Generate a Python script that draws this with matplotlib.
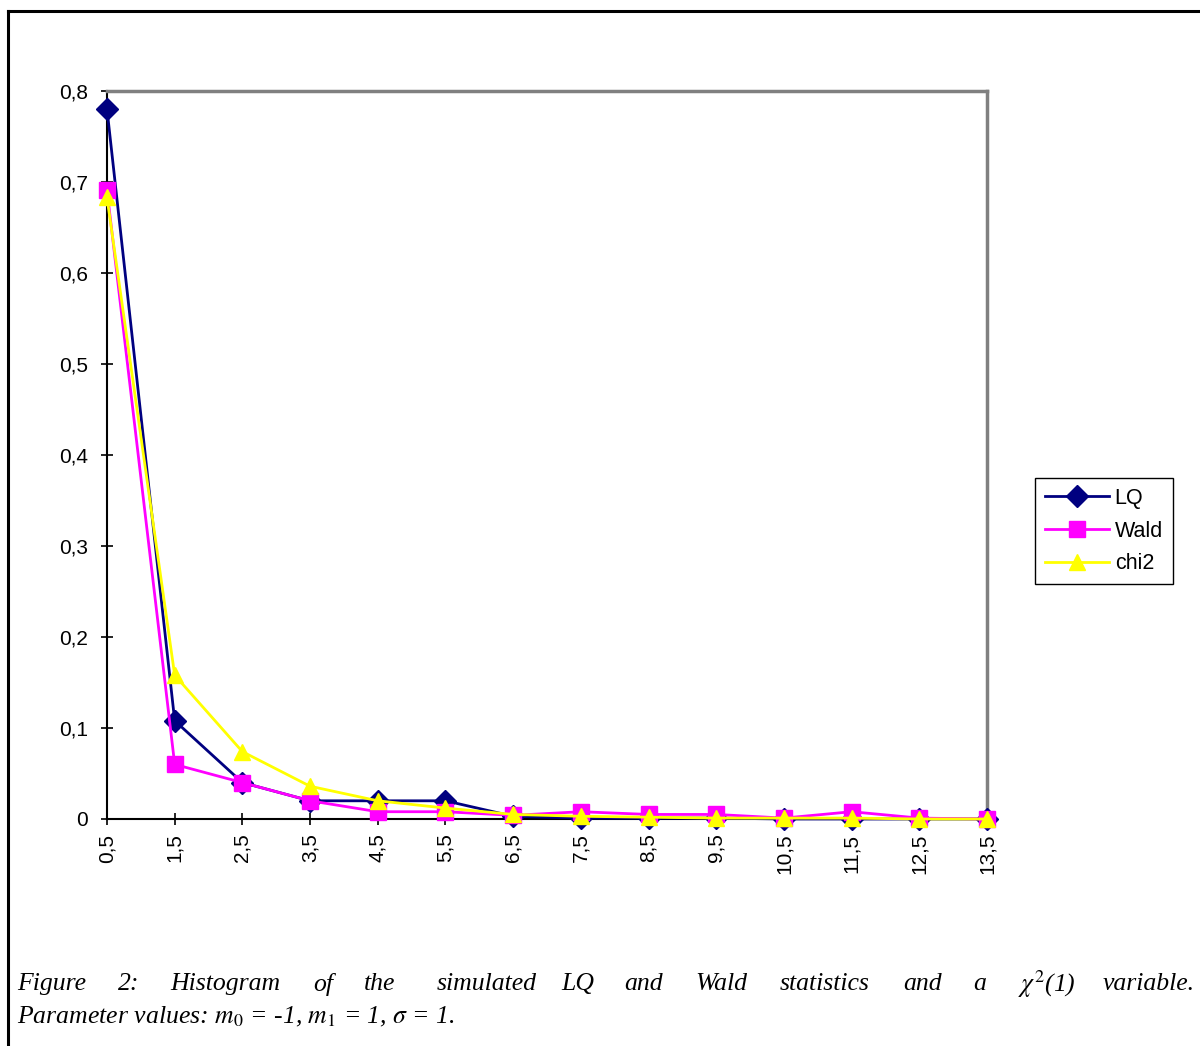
import numpy as np
import matplotlib
matplotlib.use('Agg')
import matplotlib.pyplot as plt
from matplotlib.lines import Line2D

plt.rcParams['mathtext.fontset'] = 'stix'

# category labels (bin centres) and relative frequencies
categorias = ['0,5', '1,5', '2,5', '3,5', '4,5', '5,5', '6,5',
              '7,5', '8,5', '9,5', '10,5', '11,5', '12,5', '13,5']
lq = [0.780, 0.108, 0.040, 0.020, 0.020, 0.020, 0.003,
      0.001, 0.001, 0.001, 0.000, 0.000, 0.000, 0.000]
wald = [0.691, 0.060, 0.040, 0.020, 0.008, 0.008, 0.004,
        0.008, 0.005, 0.005, 0.001, 0.008, 0.001, 0.000]
chi2 = [0.683, 0.158, 0.074, 0.036, 0.020, 0.012, 0.005,
        0.003, 0.002, 0.001, 0.001, 0.001, 0.000, 0.000]
y_ticks = [0, 0.1, 0.2, 0.3, 0.4, 0.5, 0.6, 0.7, 0.8]
y_labels = ['0', '0,1', '0,2', '0,3', '0,4', '0,5', '0,6', '0,7', '0,8']

W, H = 1200, 1046
fig = plt.figure(figsize=(W / 100, H / 100), dpi=100)
ax = fig.add_axes([107 / W, 1 - 819 / H, 880 / W, 728 / H])

x = np.arange(len(categorias))
ax.plot(x, lq, color='#000080', lw=2.0, marker='D', ms=11,
        mfc='#000080', mec='#000080', label='LQ', clip_on=False, zorder=3)
ax.plot(x, wald, color='#FF00FF', lw=2.0, marker='s', ms=11,
        mfc='#FF00FF', mec='#FF00FF', label='Wald', clip_on=False, zorder=4)
ax.plot(x, chi2, color='#FFFF00', lw=2.0, marker='^', ms=12,
        mfc='#FFFF00', mec='#FFFF00', label='chi2', clip_on=False, zorder=5)

ax.set_xlim(0, len(categorias) - 1)
ax.set_ylim(0, 0.8)
ax.set_xticks(x)
ax.set_xticklabels(categorias, rotation=90, fontsize=15, family='Liberation Sans')
ax.set_yticks(y_ticks)
ax.set_yticklabels(y_labels, fontsize=15, family='Liberation Sans')
ax.tick_params(axis='both', direction='inout', length=9, width=1.2, color='black')
ax.tick_params(axis='y', pad=9)
ax.tick_params(axis='x', pad=6)

for lado in ['left', 'bottom']:
    ax.spines[lado].set_color('black')
    ax.spines[lado].set_linewidth(1.5)
for lado in ['top', 'right']:
    ax.spines[lado].set_color('#808080')
    ax.spines[lado].set_linewidth(2.5)

leg = ax.legend(loc='upper left', bbox_to_anchor=(1035 / W, 1 - 478 / H),
                bbox_transform=fig.transFigure, borderaxespad=0,
                fancybox=False, edgecolor='black', framealpha=1,
                prop={'family': 'Liberation Sans', 'size': 15.5},
                handlelength=3.0, handletextpad=0.25, labelspacing=0.55,
                borderpad=0.45)
leg.get_frame().set_linewidth(1.0)

# outer frame of the figure
fig.add_artist(Line2D([8 / W, 8 / W], [0, 1 - 11 / H], color='black',
                      lw=2.2, transform=fig.transFigure))
fig.add_artist(Line2D([8 / W, 1], [1 - 11 / H, 1 - 11 / H], color='black',
                      lw=2.2, transform=fig.transFigure))

# caption, first line justified word by word
palavras = ['Figure', '2:', 'Histogram', 'of', 'the', 'simulated', 'LQ', 'and',
            'Wald', 'statistics', 'and', 'a', r'$\chi^2$(1)', 'variable.']
pos_x = [17, 118, 170, 313, 364, 437, 561, 624, 695, 780, 903, 973, 1018, 1103]
for p, px in zip(palavras, pos_x):
    fig.text(px / W, 1 - 984 / H, p, ha='left', va='center', fontsize=18.5,
             family='Liberation Serif', style='italic')
fig.text(17 / W, 1 - 1017 / H,
         r'Parameter values: $m_0$ = -1, $m_1$ = 1, $\sigma$ = 1.',
         ha='left', va='center', fontsize=18.5, family='Liberation Serif',
         style='italic')

fig.savefig('out.png', dpi=100)
